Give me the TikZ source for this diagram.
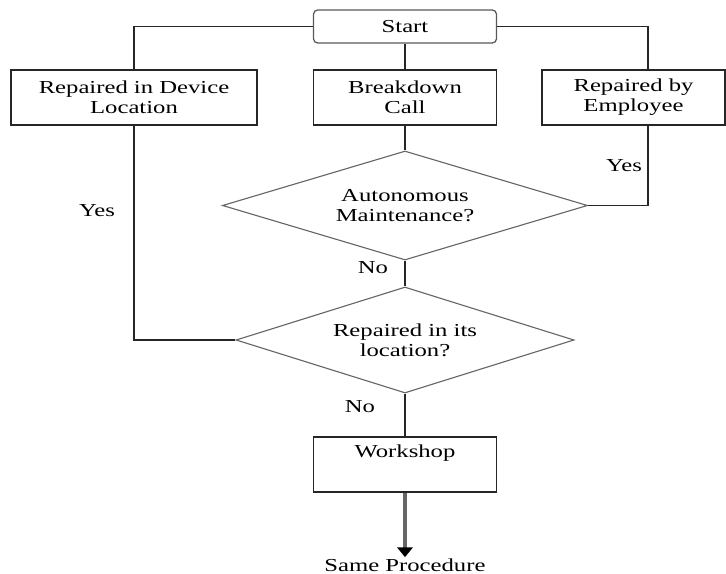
\documentclass[tikz,border=0pt]{standalone}
\usepackage{fontspec}
\setmainfont{Liberation Serif}[FakeStretch=1.35]
\usetikzlibrary{positioning}
\usetikzlibrary{arrows.meta}
\usetikzlibrary{shapes.geometric}
\colorlet{linec}{black!85}
\colorlet{decc}{black!60}

\begin{document}
\begin{tikzpicture}[x=0.025cm,y=-0.025cm,font=\fontsize{13}{14.2}\selectfont,
  box/.style={draw=linec,line width=0.8pt,align=center,minimum width=4.575cm,minimum height=1.375cm},
  startbox/.style={draw=black!65,line width=0.9pt,rounded corners=3pt,minimum width=4.575cm,minimum height=0.825cm},
  decision/.style={draw=decc,line width=0.8pt,diamond,aspect=3.35,inner sep=0pt,align=center},
  conn/.style={draw=linec,line width=0.9pt}]
\useasboundingbox (0,0) rectangle (726,574);

\node[startbox] (start) at (405,26.5) {Start};
\node[box] (call) at (405,97.5) {Breakdown\\Call};
\node[box,minimum width=6.15cm] (devloc) at (134,97.5) {Repaired in Device\\Location};
\node[box] (employee) at (633.5,97.5) {Repaired by\\Employee};
\node[decision,minimum width=9.125cm,minimum height=2.725cm] (auto) at (405,205.5) {Autonomous\\Maintenance?};
\node[decision,minimum width=8.45cm,minimum height=2.65cm] (loc) at (405,340) {Repaired in its\\location?};
\node[box] (work) at (405,464.5) {Workshop\\ \strut};
\node[anchor=base,inner sep=1pt] (same) at (405,571.5) {Same Procedure};
\coordinate (eyes) at (648,205.5);

\draw[conn] (start.west) -| (devloc.north);
\draw[conn] (start.east) -| (employee.north -| eyes);
\draw[conn] (start.south) -- (call.north);
\draw[conn] (call.south) -- (auto.north);
\draw[conn] (devloc.south) |- (loc.west);
\draw[conn] (employee.south -| eyes) -- (eyes) -- (auto.east);
\draw[conn] (auto.south) -- (loc.north);
\draw[conn] (loc.south) -- (work.north);
\draw[draw=black!60,line width=2.2pt,-{Triangle[black,length=7pt,width=11pt]}] (work.south) -- (same.north);

\node (yesl) at (97,211) {Yes};
\node (yesr) at (624,166) {Yes};
\node (no1) at (373,268) {No};
\node (no2) at (360,407) {No};
\end{tikzpicture}
\end{document}
